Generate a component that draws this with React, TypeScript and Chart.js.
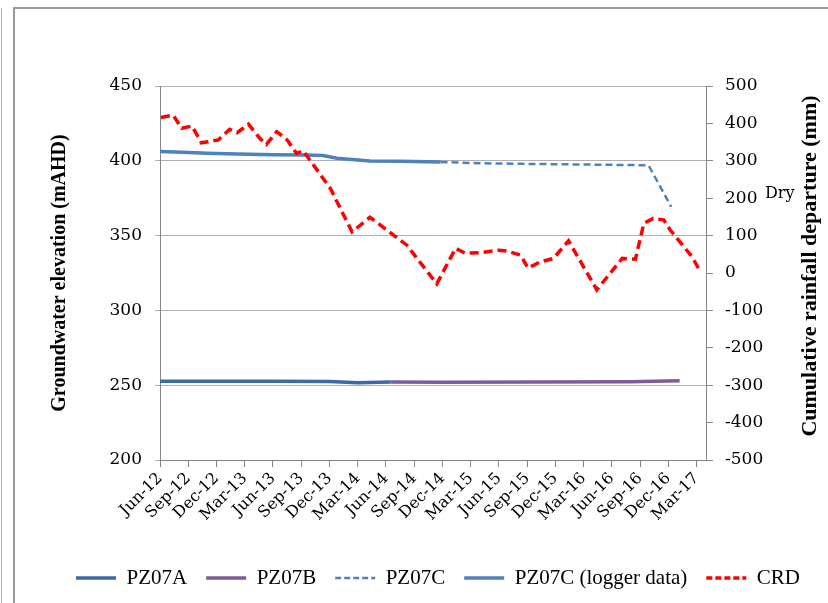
import React, { useEffect, useRef } from 'react';
import { Chart, registerables } from 'chart.js';

Chart.register(...registerables);

// Quarterly tick labels (x axis is in months since Jun-12)
const quarterLabels = [
  'Jun-12', 'Sep-12', 'Dec-12', 'Mar-13', 'Jun-13', 'Sep-13', 'Dec-13', 'Mar-14',
  'Jun-14', 'Sep-14', 'Dec-14', 'Mar-15', 'Jun-15', 'Sep-15', 'Dec-15', 'Mar-16',
  'Jun-16', 'Sep-16', 'Dec-16', 'Mar-17',
];

// PZ07A (mAHD)
const pz07aMonths = [0, 12, 18, 21, 24.5];
const pz07aValues = [252.6, 252.6, 252.4, 251.7, 252.2];

// PZ07B (mAHD)
const pz07bMonths = [24.5, 30, 40, 50, 55.2];
const pz07bValues = [252.2, 252.0, 252.1, 252.3, 253.0];

// PZ07C manual readings (mAHD)
const pz07cMonths = [29.8, 34.3, 51.9, 54.3];
const pz07cValues = [399.2, 398.3, 397.0, 369.3];

// PZ07C logger data (mAHD)
const loggerMonths = [0, 2.4, 5, 8.2, 12, 15.6, 17.3, 18.8, 22.3, 25.5, 29.8];
const loggerValues = [406.2, 405.7, 405.1, 404.5, 404.1, 403.9, 403.6, 401.7, 399.9, 399.7, 399.2];

// Cumulative rainfall departure (mm)
const crdMonths = [
  0.1, 1.4, 2.3, 3.4, 4.4, 5.1, 6.2, 7.4, 8.2, 9.4, 10.6, 11.3, 12.4, 13.5, 14.5, 15.2,
  18.1, 20.4, 22.3, 26.2, 29.4, 31.4, 32.4, 34.0, 36.0, 36.8, 38.3, 39.1, 40.4, 41.8,
  43.4, 46.4, 49.1, 50.5, 51.4, 52.4, 53.5, 54.2, 56.5, 57.4,
];
const crdValues = [
  416, 422, 387, 393, 348, 351, 356, 384, 375, 398, 360, 344, 378, 356, 320, 327,
  226, 110, 149, 75, -29, 66, 53, 54, 61, 59, 48, 13, 30, 39,
  86, -45, 39, 37, 133, 146, 142, 115, 44, 4,
];

const pts = (xs: number[], ys: number[]) => xs.map((x, i) => ({ x, y: ys[i] }));

const AXIS = '#868686';
const GRID = '#b0b0b0';
const TICK_FONT = { family: "'DejaVu Serif', serif", size: 17 };
const XTICK_FONT = { family: "'DejaVu Serif', serif", size: 16 };
const LEGEND_FONT = { family: "'Liberation Serif', serif", size: 21 };

const extraText = {
  id: 'extraText',
  afterDraw(chart: any) {
    const { ctx, chartArea } = chart;
    const y1 = chart.scales.y1;
    ctx.save();
    ctx.fillStyle = '#000';
    // right axis title, reading bottom-to-top
    ctx.font = "bold 22px 'Liberation Serif', serif";
    ctx.translate(chartArea.right + 104, (y1.top + y1.bottom) / 2 - 7);
    ctx.rotate(-Math.PI / 2);
    ctx.textAlign = 'center';
    ctx.textBaseline = 'middle';
    ctx.fillText('Cumulative rainfall departure (mm)', 0, 0);
    ctx.restore();
    ctx.save();
    ctx.fillStyle = '#000';
    ctx.font = "16px 'DejaVu Serif', serif";
    ctx.textAlign = 'left';
    ctx.textBaseline = 'alphabetic';
    ctx.fillText('Dry', chartArea.right + 59, y1.getPixelForValue(200));
    ctx.restore();
  },
};

export default function App() {
  const ref = useRef<HTMLCanvasElement | null>(null);

  useEffect(() => {
    if (!ref.current) return;
    const chart = new Chart(ref.current, {
      type: 'line',
      data: {
        datasets: [
          {
            label: 'PZ07A',
            data: pts(pz07aMonths, pz07aValues),
            borderColor: '#3d69a6',
            backgroundColor: '#3d69a6',
            borderWidth: 3.5,
            pointRadius: 0,
            yAxisID: 'y',
            order: 1,
          },
          {
            label: 'PZ07B',
            data: pts(pz07bMonths, pz07bValues),
            borderColor: '#7b5c9e',
            backgroundColor: '#7b5c9e',
            borderWidth: 3.5,
            pointRadius: 0,
            yAxisID: 'y',
            order: 1,
          },
          {
            label: 'PZ07C',
            data: pts(pz07cMonths, pz07cValues),
            borderColor: '#4f81bd',
            backgroundColor: '#4f81bd',
            borderWidth: 2.5,
            borderDash: [7, 4],
            pointRadius: 0,
            yAxisID: 'y',
            order: 1,
          },
          {
            label: 'PZ07C (logger data)',
            data: pts(loggerMonths, loggerValues),
            borderColor: '#4f81bd',
            backgroundColor: '#4f81bd',
            borderWidth: 3.5,
            pointRadius: 0,
            yAxisID: 'y',
            order: 1,
          },
          {
            label: 'CRD',
            data: pts(crdMonths, crdValues),
            borderColor: '#ff0000',
            backgroundColor: '#ff0000',
            borderWidth: 3.5,
            borderDash: [9, 5],
            pointRadius: 0,
            yAxisID: 'y1',
            order: 0,
          },
        ],
      },
      options: {
        animation: false,
        responsive: false,
        events: [],
        layout: { padding: { left: 48, right: 0, top: 86, bottom: 4.5 } },
        plugins: {
          legend: {
            position: 'bottom',
            labels: {
              usePointStyle: true,
              pointStyle: 'line',
              pointStyleWidth: 40,
              padding: 19,
              color: '#000',
              font: LEGEND_FONT,
              sort: (a: any, b: any) => a.datasetIndex - b.datasetIndex,
              generateLabels: (chart: any) => {
                const items = (Chart as any).defaults.plugins.legend.labels.generateLabels(chart);
                items.forEach((it: any) => {
                  const ds = chart.data.datasets[it.datasetIndex];
                  it.lineDash = ds.borderDash ? [6, 3] : [];
                  it.lineWidth = ds.borderWidth;
                  it.strokeStyle = ds.borderColor;
                  it.lineCap = 'butt';
                });
                return items;
              },
            },
          },
          tooltip: { enabled: false },
        },
        scales: {
          x: {
            type: 'linear',
            min: 0,
            max: 58,
            grid: { drawOnChartArea: false, drawTicks: true, tickLength: 7, color: AXIS },
            border: { color: AXIS },
            ticks: {
              autoSkip: false,
              maxRotation: 45,
              minRotation: 45,
              padding: 2,
              color: '#000',
              font: XTICK_FONT,
              callback: (v: any) => quarterLabels[Math.round(Number(v) / 3)],
            },
            afterBuildTicks: (s: any) => {
              s.ticks = quarterLabels.map((_, i) => ({ value: i * 3 }));
            },
            afterFit: (s: any) => {
              s.height = 88.5;
            },
          },
          y: {
            position: 'left',
            min: 200,
            max: 450,
            ticks: { stepSize: 50, padding: 13, color: '#000', font: TICK_FONT },
            grid: { color: GRID, tickLength: 5 },
            border: { color: AXIS },
            title: {
              display: true,
              text: 'Groundwater elevation (mAHD)',
              color: '#000',
              font: { family: "'Liberation Serif', serif", size: 20, weight: 'bold' },
              padding: 0,
            },
            afterFit: (s: any) => {
              s.width = 112;
            },
          },
          y1: {
            position: 'right',
            min: -500,
            max: 500,
            ticks: { stepSize: 100, padding: 12, color: '#000', font: TICK_FONT },
            grid: { drawOnChartArea: false, tickLength: 7, color: AXIS },
            border: { color: AXIS },
            afterFit: (s: any) => {
              s.width = 122;
            },
          },
        },
      } as any,
      plugins: [extraText],
    });
    return () => chart.destroy();
  }, []);

  return (
    <div style={{ position: 'fixed', left: 0, top: 0, width: 828, height: 603, background: '#fff', overflow: 'hidden' }}>
      <div style={{ position: 'absolute', left: 1, top: 8, width: 1, height: 595, background: '#b0b0b0' }} />
      <div
        style={{
          position: 'absolute',
          left: 13,
          top: 7,
          width: 815,
          height: 596,
          borderTop: '2px solid #9a9a9a',
          borderLeft: '2px solid #9a9a9a',
          boxSizing: 'border-box',
        }}
      />
      <canvas ref={ref} width={828} height={603} style={{ position: 'absolute', left: 0, top: 0, width: 828, height: 603 }} />
    </div>
  );
}
